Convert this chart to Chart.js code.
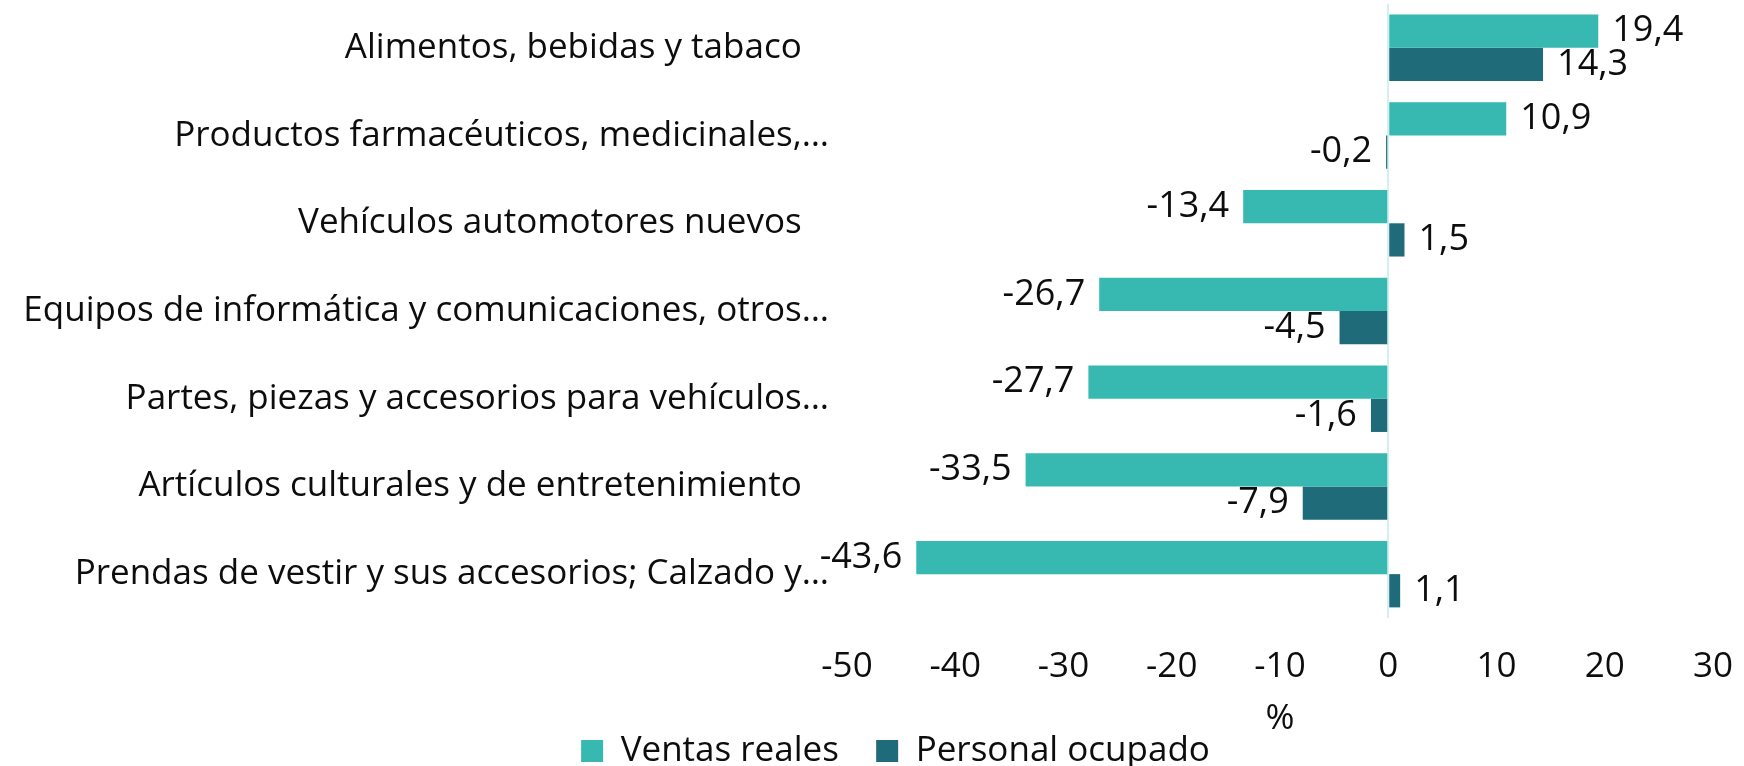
<!DOCTYPE html>
<html lang="es">
<head>
<meta charset="UTF-8">
<title>Ventas reales y personal ocupado</title>
<script src="https://cdn.jsdelivr.net/npm/chart.js"></script>
<style>
html, body {
    margin: 0;
    padding: 0;
    background: #fff;
}
.chartBox {
    position: relative;
    width: 1744px;
    height: 766px;
}
</style>
</head>
<body>
<div class="chartBox"><canvas id="chart"></canvas></div>
<script>
const categories = [
    'Alimentos, bebidas y tabaco   ',
    'Productos farmacéuticos, medicinales,…',
    'Vehículos automotores nuevos   ',
    'Equipos de informática y comunicaciones, otros…',
    'Partes, piezas y accesorios para vehículos…',
    'Artículos culturales y de entretenimiento   ',
    'Prendas de vestir y sus accesorios; Calzado y…'
];
const ventasReales = [19.4, 10.9, -13.4, -26.7, -27.7, -33.5, -43.6];
const personalOcupado = [14.3, -0.2, 1.5, -4.5, -1.6, -7.9, 1.1];
const xTicks = [-50, -40, -30, -20, -10, 0, 10, 20, 30];

const FONT = '"Open Sans", "Noto Sans", sans-serif';
const TEXT = '#0d0d0d';

// value labels at the end of each bar, decimal comma
const valueLabels = {
    id: 'valueLabels',
    afterDatasetsDraw(chart) {
        const ctx = chart.ctx;
        ctx.save();
        ctx.font = '36px ' + FONT;
        ctx.fillStyle = TEXT;
        ctx.textBaseline = 'middle';
        chart.data.datasets.forEach((ds, i) => {
            chart.getDatasetMeta(i).data.forEach((bar, j) => {
                const v = ds.data[j];
                const txt = v.toFixed(1).replace('.', ',');
                ctx.textAlign = v < 0 ? 'right' : 'left';
                ctx.fillText(txt, bar.x + (v < 0 ? -14 : 14), bar.y);
            });
        });
        ctx.restore();
    }
};

// the legend sits a little right of the page centre
const legendShift = {
    id: 'legendShift',
    afterLayout(chart) {
        if (chart.legend) {
            chart.legend.left += 78;
        }
    }
};

new Chart(document.getElementById('chart'), {
    type: 'bar',
    data: {
        labels: categories,
        datasets: [{
            label: 'Ventas reales',
            data: ventasReales,
            backgroundColor: '#37b8b0'
        }, {
            label: 'Personal ocupado',
            data: personalOcupado,
            backgroundColor: '#1f6b7a'
        }]
    },
    options: {
        indexAxis: 'y',
        responsive: true,
        maintainAspectRatio: false,
        animation: false,
        categoryPercentage: 0.758,
        barPercentage: 1.0,
        layout: {
            padding: { top: 4, right: 31, bottom: -12.5, left: 0 }
        },
        scales: {
            x: {
                min: xTicks[0],
                max: xTicks[xTicks.length - 1],
                afterBuildTicks: s => { s.ticks = xTicks.map(v => ({ value: v })); },
                afterFit: s => {
                    s.height = 766 + 12.5 - 55 - 618;
                    s.paddingLeft = 0;
                    s.paddingRight = 0;
                },
                border: { display: false },
                grid: {
                    drawTicks: false,
                    lineWidth: 2,
                    color: c => c.tick && c.tick.value === 0 ? '#d3efef' : 'rgba(0,0,0,0)'
                },
                ticks: {
                    padding: 28,
                    color: TEXT,
                    font: { family: FONT, size: 35 }
                },
                title: {
                    display: true,
                    text: '%',
                    color: TEXT,
                    font: { family: FONT, size: 35, lineHeight: 1 },
                    padding: { top: 0, bottom: -13 }
                }
            },
            y: {
                afterFit: s => {
                    s.width = 847;
                    s.paddingTop = 0;
                    s.paddingBottom = 0;
                },
                border: { display: false },
                grid: { display: false, drawTicks: false },
                ticks: {
                    padding: 18,
                    color: TEXT,
                    font: { family: FONT, size: 35 }
                }
            }
        },
        plugins: {
            tooltip: { enabled: false },
            legend: {
                position: 'bottom',
                labels: {
                    color: TEXT,
                    font: { family: FONT, size: 35 },
                    boxWidth: 22,
                    boxHeight: 22,
                    padding: 10,
                    generateLabels(chart) {
                        const items = Chart.defaults.plugins.legend.labels.generateLabels(chart);
                        items.forEach((it, i) => {
                            it.lineWidth = 0;
                            if (i < items.length - 1) it.text += '   ';
                        });
                        return items;
                    }
                }
            }
        }
    },
    plugins: [valueLabels, legendShift]
});
</script>
</body>
</html>
